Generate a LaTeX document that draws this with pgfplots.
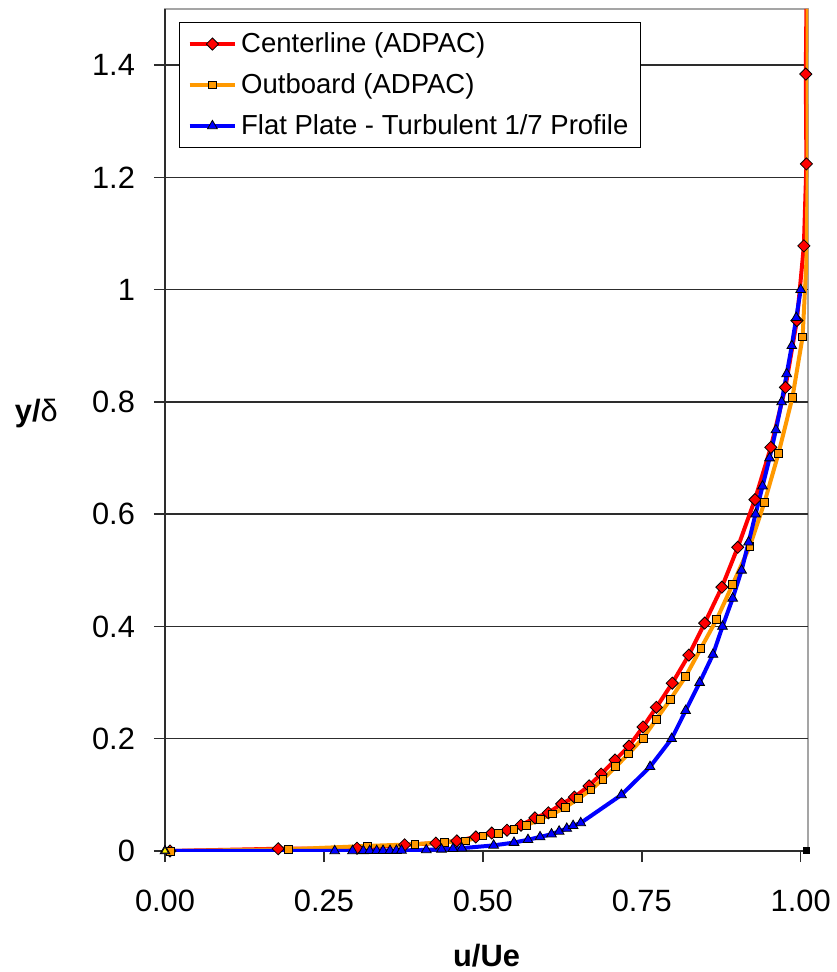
\documentclass[border=0pt]{standalone}
\usepackage{fontspec}
\setmainfont{Liberation Sans}
\usepackage{pgfplots}
\pgfplotsset{compat=1.18}
\definecolor{cred}{RGB}{255,0,0}
\definecolor{corange}{RGB}{255,153,0}
\definecolor{cblue}{RGB}{0,0,255}
\definecolor{axgray}{RGB}{45,45,45}
\definecolor{bordergray}{RGB}{165,165,165}
\begin{document}
\begin{tikzpicture}
\useasboundingbox (-82.5pt,-60.5pt) rectangle (335.5pt,425.5pt);
\begin{axis}[
  scale only axis, width=321.5pt, height=421pt,
  xmin=0, xmax=1.0115, ymin=0, ymax=1.5,
  axis x line*=bottom, axis y line*=left,
  axis line style={axgray, line width=0.75pt},
  axis background/.style={draw=bordergray, line width=0.65pt},
  xtick={0,0.25,0.5,0.75,1},
  ytick={0,0.2,0.4,0.6,0.8,1,1.2,1.4},
  tick align=outside, major tick length=5.5pt,
  tick style={axgray, line width=0.75pt},
  xticklabel style={yshift=-10.5pt, /pgf/number format/.cd, fixed, fixed zerofill, precision=2},
  yticklabel style={xshift=-6pt, /pgf/number format/.cd, fixed, precision=1},
  /pgf/number format/assume math mode=true,
  ticklabel style={font=\fontsize{15.4}{18}\selectfont},
  ymajorgrids, grid style={axgray, line width=0.75pt},
  xlabel={\textbf{u/Ue}},
  every axis x label/.style={at={(axis description cs:0.5,-0.124)}, anchor=center, font=\fontsize{15.4}{18}\selectfont},
  ylabel={\textbf{y/}δ},
  every axis y label/.style={at={(axis description cs:-0.20,0.52)}, anchor=center, font=\fontsize{15.4}{18}\selectfont},
  legend cell align=left,
  legend style={at={(axis description cs:0.0218,0.9846)}, anchor=north west, draw=black, line width=0.65pt,
    font=\fontsize{13.75}{16}\selectfont, row sep=5pt, inner xsep=4pt, inner ysep=3pt},
  legend image code/.code={\draw[mark repeat=2, mark phase=2, #1] plot coordinates {(0cm,0cm)(0.4cm,0cm)(0.8cm,0cm)};},
]
\addplot[cred, line width=2pt, mark=square*, mark size=2.15pt, mark options={rotate=45, fill=cred, draw=black, line width=0.4pt}] coordinates {
(0.008,0) (0.178,0.004) (0.302,0.005) (0.377,0.011) (0.426,0.014) (0.459,0.018) (0.489,0.025) (0.514,0.032) (0.538,0.037) (0.560,0.046) (0.582,0.059) (0.603,0.068) (0.624,0.084) (0.644,0.096) (0.667,0.116) (0.686,0.137) (0.708,0.162) (0.730,0.187) (0.752,0.221) (0.773,0.256) (0.798,0.299) (0.824,0.349) (0.849,0.406) (0.876,0.470) (0.901,0.541) (0.928,0.626) (0.953,0.719) (0.976,0.826) (0.994,0.945) (1.005,1.078) (1.009,1.224) (1.008,1.384)
};
\addlegendentry{Centerline (ADPAC)}
\addplot[corange, line width=2pt, mark=square*, mark size=1.95pt, mark options={fill=corange, draw=black, line width=0.4pt}] coordinates {
(0.008,0) (0.194,0.003) (0.318,0.009) (0.393,0.012) (0.439,0.016) (0.473,0.018) (0.500,0.027) (0.525,0.032) (0.549,0.039) (0.569,0.046) (0.591,0.057) (0.610,0.066) (0.630,0.078) (0.650,0.093) (0.670,0.109) (0.689,0.128) (0.709,0.150) (0.729,0.173) (0.752,0.201) (0.773,0.235) (0.795,0.270) (0.819,0.311) (0.843,0.361) (0.868,0.413) (0.893,0.475) (0.920,0.543) (0.943,0.621) (0.965,0.708) (0.987,0.808) (1.003,0.916)
};
\addlegendentry{Outboard (ADPAC)}
\addplot[cblue, line width=2pt, mark=triangle*, mark size=2.8pt, mark options={fill=cblue, draw=black, line width=0.4pt}] coordinates {
(0,0) (0.267,0.0001) (0.295,0.0002) (0.312,0.0003) (0.322,0.0004) (0.333,0.0005) (0.343,0.0006) (0.354,0.0007) (0.364,0.0008) (0.372,0.001) (0.411,0.002) (0.435,0.003) (0.453,0.004) (0.467,0.005) (0.517,0.01) (0.549,0.015) (0.571,0.02) (0.590,0.025) (0.608,0.03) (0.620,0.035) (0.632,0.04) (0.642,0.045) (0.654,0.05) (0.718,0.1) (0.763,0.15) (0.797,0.2) (0.819,0.25) (0.841,0.3) (0.862,0.35) (0.877,0.4) (0.893,0.45) (0.907,0.5) (0.918,0.55) (0.929,0.6) (0.940,0.65) (0.951,0.7) (0.961,0.75) (0.970,0.8) (0.978,0.85) (0.986,0.9) (0.993,0.95) (1.0,1.0)
};
\addlegendentry{Flat Plate - Turbulent 1/7 Profile}
\addplot[cred, line width=2pt, forget plot] coordinates {(1.008,1.384) (1.009,1.5)};
\addplot[corange, line width=2pt, forget plot] coordinates {(1.003,0.916) (1.009,1.05) (1.011,1.2) (1.011,1.5)};
\addplot[only marks, mark=triangle*, mark size=2pt, mark options={fill=yellow, draw=black, line width=0.3pt}, forget plot] coordinates {(0,0)};
\addplot[only marks, mark=square*, mark size=1.5pt, mark options={fill=black, draw=black}, forget plot] coordinates {(1.009,0.001)};
\end{axis}
\end{tikzpicture}
\end{document}
